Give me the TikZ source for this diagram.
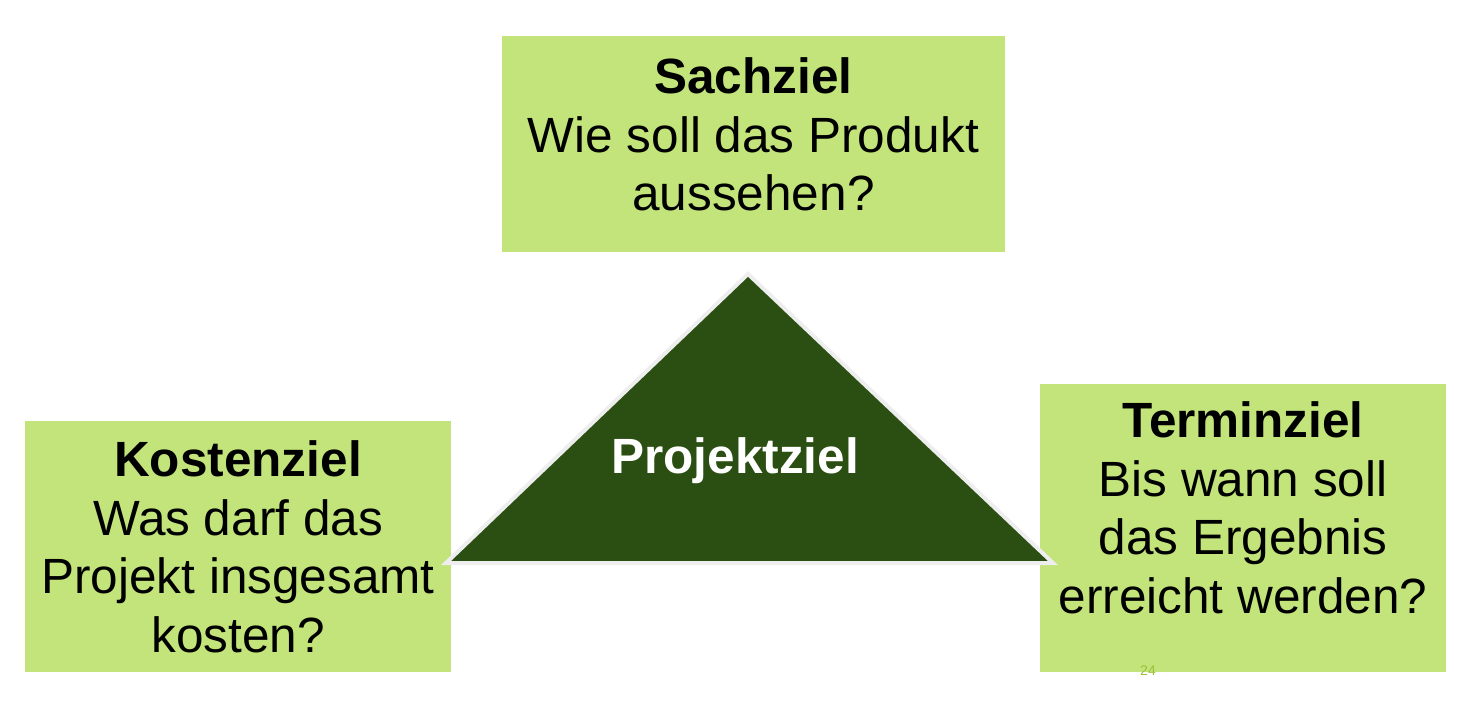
\documentclass[tikz,border=0pt]{standalone}
\usepackage{fontspec}
\setmainfont{Liberation Sans}
\definecolor{boxgreen}{HTML}{C2E47A}
\definecolor{darkgreen}{HTML}{2B4F12}
\definecolor{edgegray}{HTML}{EEEEEE}
\definecolor{numgreen}{HTML}{9BC03A}
\begin{document}
\begin{tikzpicture}[x=1pt,y=-1pt,
  goalbox/.style={draw=none,fill=boxgreen,inner sep=0pt},
  goaltext/.style={inner sep=0pt,align=center,anchor=base,font=\fontsize{49.5}{58.5}\selectfont},
  tri/.style={fill=darkgreen,draw=edgegray,line width=4pt,line join=miter}]
\useasboundingbox (0,0) rectangle (1479,708);
% boxes
\node[goalbox,minimum width=503pt,minimum height=216pt] (sach) at (753.5,144) {};
\node[goalbox,minimum width=426pt,minimum height=251pt] (kost) at (238,546.5) {};
\node[goalbox,minimum width=406pt,minimum height=288pt] (term) at (1243,528) {};
% texts (anchor base = baseline of last line)
\node[goaltext] (sacht) at (753.5,211) {\textbf{Sachziel}\\Wie soll das Produkt\\aussehen?};
\node[goaltext] (kostt) at (238,652) {\textbf{Kostenziel}\\Was darf das\\Projekt insgesamt\\kosten?};
\node[goaltext] (termt) at (1243,613) {\textbf{Terminziel}\\Bis wann soll\\das Ergebnis\\erreicht werden?};
% triangle
\coordinate (ttop) at (748,274);
\coordinate (tleft) at (446,563);
\coordinate (tright) at (1053,563);
\draw[tri] (ttop) -- (tleft) -- (tright) -- cycle;
\node[inner sep=0pt,anchor=base,text=white,font=\fontsize{49.5}{58.5}\selectfont\bfseries] (proj) at (735,473) {Projektziel};
\node[inner sep=0pt,anchor=base,text=numgreen,font=\fontsize{14}{16}\selectfont] (page) at (1148,675) {24};
\end{tikzpicture}
\end{document}
